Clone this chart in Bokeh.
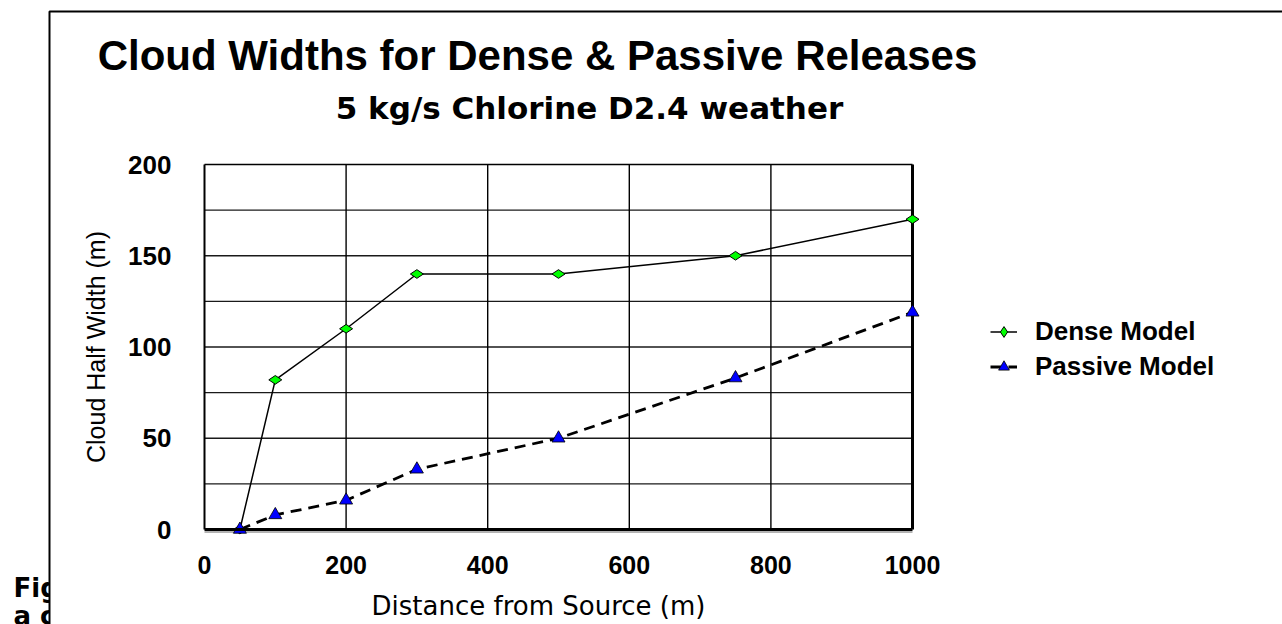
import math
from bokeh.plotting import figure
from bokeh.models import Label, BoxAnnotation, Legend, LegendItem, FixedTicker, Range1d
from bokeh.embed import file_html
from bokeh.resources import INLINE

# ---- data ----
distance_dense = [50, 100, 200, 300, 500, 750, 1000]
halfwidth_dense = [0, 82, 110, 140, 140, 150, 170]
distance_passive = [50, 100, 200, 300, 500, 750, 1000]
halfwidth_passive = [0, 8, 16, 33, 50, 83, 119]
x_ticks = [0, 200, 400, 600, 800, 1000]
y_ticks = [0, 50, 100, 150, 200]
x_grid = [200, 400, 600, 800]
y_grid = [25, 50, 75, 100, 125, 150, 175]
x_lim = [0, 1000]
y_lim = [0, 200]

W, H = 1282, 624
# where the plotting box sits on the canvas (px)
PL, PR, PT, PB = 204, 912, 164, 529
sx = (PR - PL) / (x_lim[1] - x_lim[0])
sy = (PB - PT) / (y_lim[1] - y_lim[0])

def dx(X):
    return x_lim[0] + (X - PL) / sx

def dy(Y):
    return y_lim[0] + (PB - Y) / sy

p = figure(width=W, height=H, output_backend="svg", toolbar_location=None,
           x_range=Range1d(dx(0), dx(W)), y_range=Range1d(dy(H), dy(0)),
           min_border=0, min_border_left=0, min_border_right=0,
           min_border_top=0, min_border_bottom=0)
p.title.visible = False
p.outline_line_color = None
p.background_fill_color = "white"
p.border_fill_color = "white"
p.grid.visible = False

def text(X, Y, s, font, size, style="bold", align="left", angle=0.0, level="annotation"):
    lab = Label(x=dx(X), y=dy(Y), text=s, text_font=font, text_font_style=style,
                text_font_size=size, text_align=align, text_baseline="middle",
                text_color="black", angle=angle, level=level)
    p.add_layout(lab)
    return lab

# text at far left, partially covered by the chart box
text(13, 587, "Fig", "DejaVu Sans", "26px", level="image")
text(13, 615, "a c", "DejaVu Sans", "26px", level="image")
# chart box
p.add_layout(BoxAnnotation(left=dx(49), top=dy(11), right=dx(W + 100), bottom=dy(H + 100),
                           fill_color="white", fill_alpha=1.0,
                           line_color="black", line_alpha=1.0, line_width=2, level="image"))

# grid lines and plot border
n_h = len(y_grid)
p.segment(x0=[x_lim[0]] * n_h, x1=[x_lim[1]] * n_h, y0=y_grid, y1=y_grid,
          line_color="#1a1a1a", line_width=1.3, level="underlay")
n_v = len(x_grid)
p.segment(x0=x_grid, x1=x_grid, y0=[y_lim[0]] * n_v, y1=[y_lim[1]] * n_v,
          line_color="black", line_width=1.4, level="underlay")
p.segment(x0=[x_lim[0]], x1=[x_lim[1]], y0=[y_lim[1]], y1=[y_lim[1]],
          line_color="black", line_width=1.4, level="underlay")
p.segment(x0=[x_lim[1]], x1=[x_lim[1]], y0=[y_lim[0]], y1=[y_lim[1]],
          line_color="black", line_width=3, level="underlay")
# faint shadow under the bottom axis line
p.segment(x0=[x_lim[0]], x1=[x_lim[1]], y0=[dy(PB + 2.5)], y1=[dy(PB + 2.5)],
          line_color="#9a9a9a", line_width=1.5, level="underlay")

for ax in (p.xaxis[0], p.yaxis[0]):
    ax.major_tick_line_color = None
    ax.minor_tick_line_color = None
    ax.major_label_text_font = "Liberation Sans"
    ax.major_label_text_font_style = "bold"
    ax.major_label_text_color = "black"
    ax.axis_line_color = "black"
    ax.fixed_location = 0

p.xaxis.bounds = tuple(x_lim)
p.xaxis.ticker = FixedTicker(ticks=x_ticks)
p.xaxis.major_label_text_font_size = "25px"
p.xaxis.major_label_standoff = 20
p.xaxis.axis_line_width = 3

p.yaxis.bounds = tuple(y_lim)
p.yaxis.ticker = FixedTicker(ticks=y_ticks)
p.yaxis.major_label_text_font_size = "26px"
p.yaxis.major_label_standoff = 27
p.yaxis.axis_line_width = 2
p.yaxis.axis_label = "Cloud Half Width (m)"
p.yaxis.axis_label_text_font = "Liberation Sans"
p.yaxis.axis_label_text_font_style = "normal"
p.yaxis.axis_label_text_font_size = "25px"
p.yaxis.axis_label_text_color = "black"
p.yaxis.axis_label_standoff = 15

# series
r1 = p.line(distance_dense, halfwidth_dense, line_color="black", line_width=1.5)
r1m = p.scatter(distance_dense, halfwidth_dense, marker="diamond", size=13, angle=math.pi / 2,
                fill_color="#00ff00", line_color="black", line_width=1)
r2 = p.line(distance_passive, halfwidth_passive, line_color="black", line_width=2.8,
            line_dash="11 7")
r2m = p.scatter(distance_passive, halfwidth_passive, marker="triangle", size=13,
                fill_color="#0000ff", line_color="black", line_width=0.8)

legend = Legend(items=[LegendItem(label="Dense Model", renderers=[r1, r1m]),
                       LegendItem(label="Passive Model", renderers=[r2, r2m])],
                location=(990, H - 348.75 - 35), padding=0, spacing=0, margin=0,
                glyph_width=27, glyph_height=35, label_height=35, label_standoff=18,
                label_text_font="Liberation Sans", label_text_font_style="bold",
                label_text_font_size="26px", label_text_color="black",
                border_line_color=None, background_fill_alpha=0)
p.add_layout(legend)

# titles
text(537, 55, "Cloud Widths for Dense & Passive Releases", "Liberation Sans", "42px",
     align="center")
text(589, 107, "5 kg/s Chlorine D2.4 weather", "DejaVu Sans", "31px", align="center")
text(538, 605, "Distance from Source (m)", "DejaVu Sans", "26px", style="normal",
     align="center")

open("out.html", "w").write(file_html(p, INLINE))
